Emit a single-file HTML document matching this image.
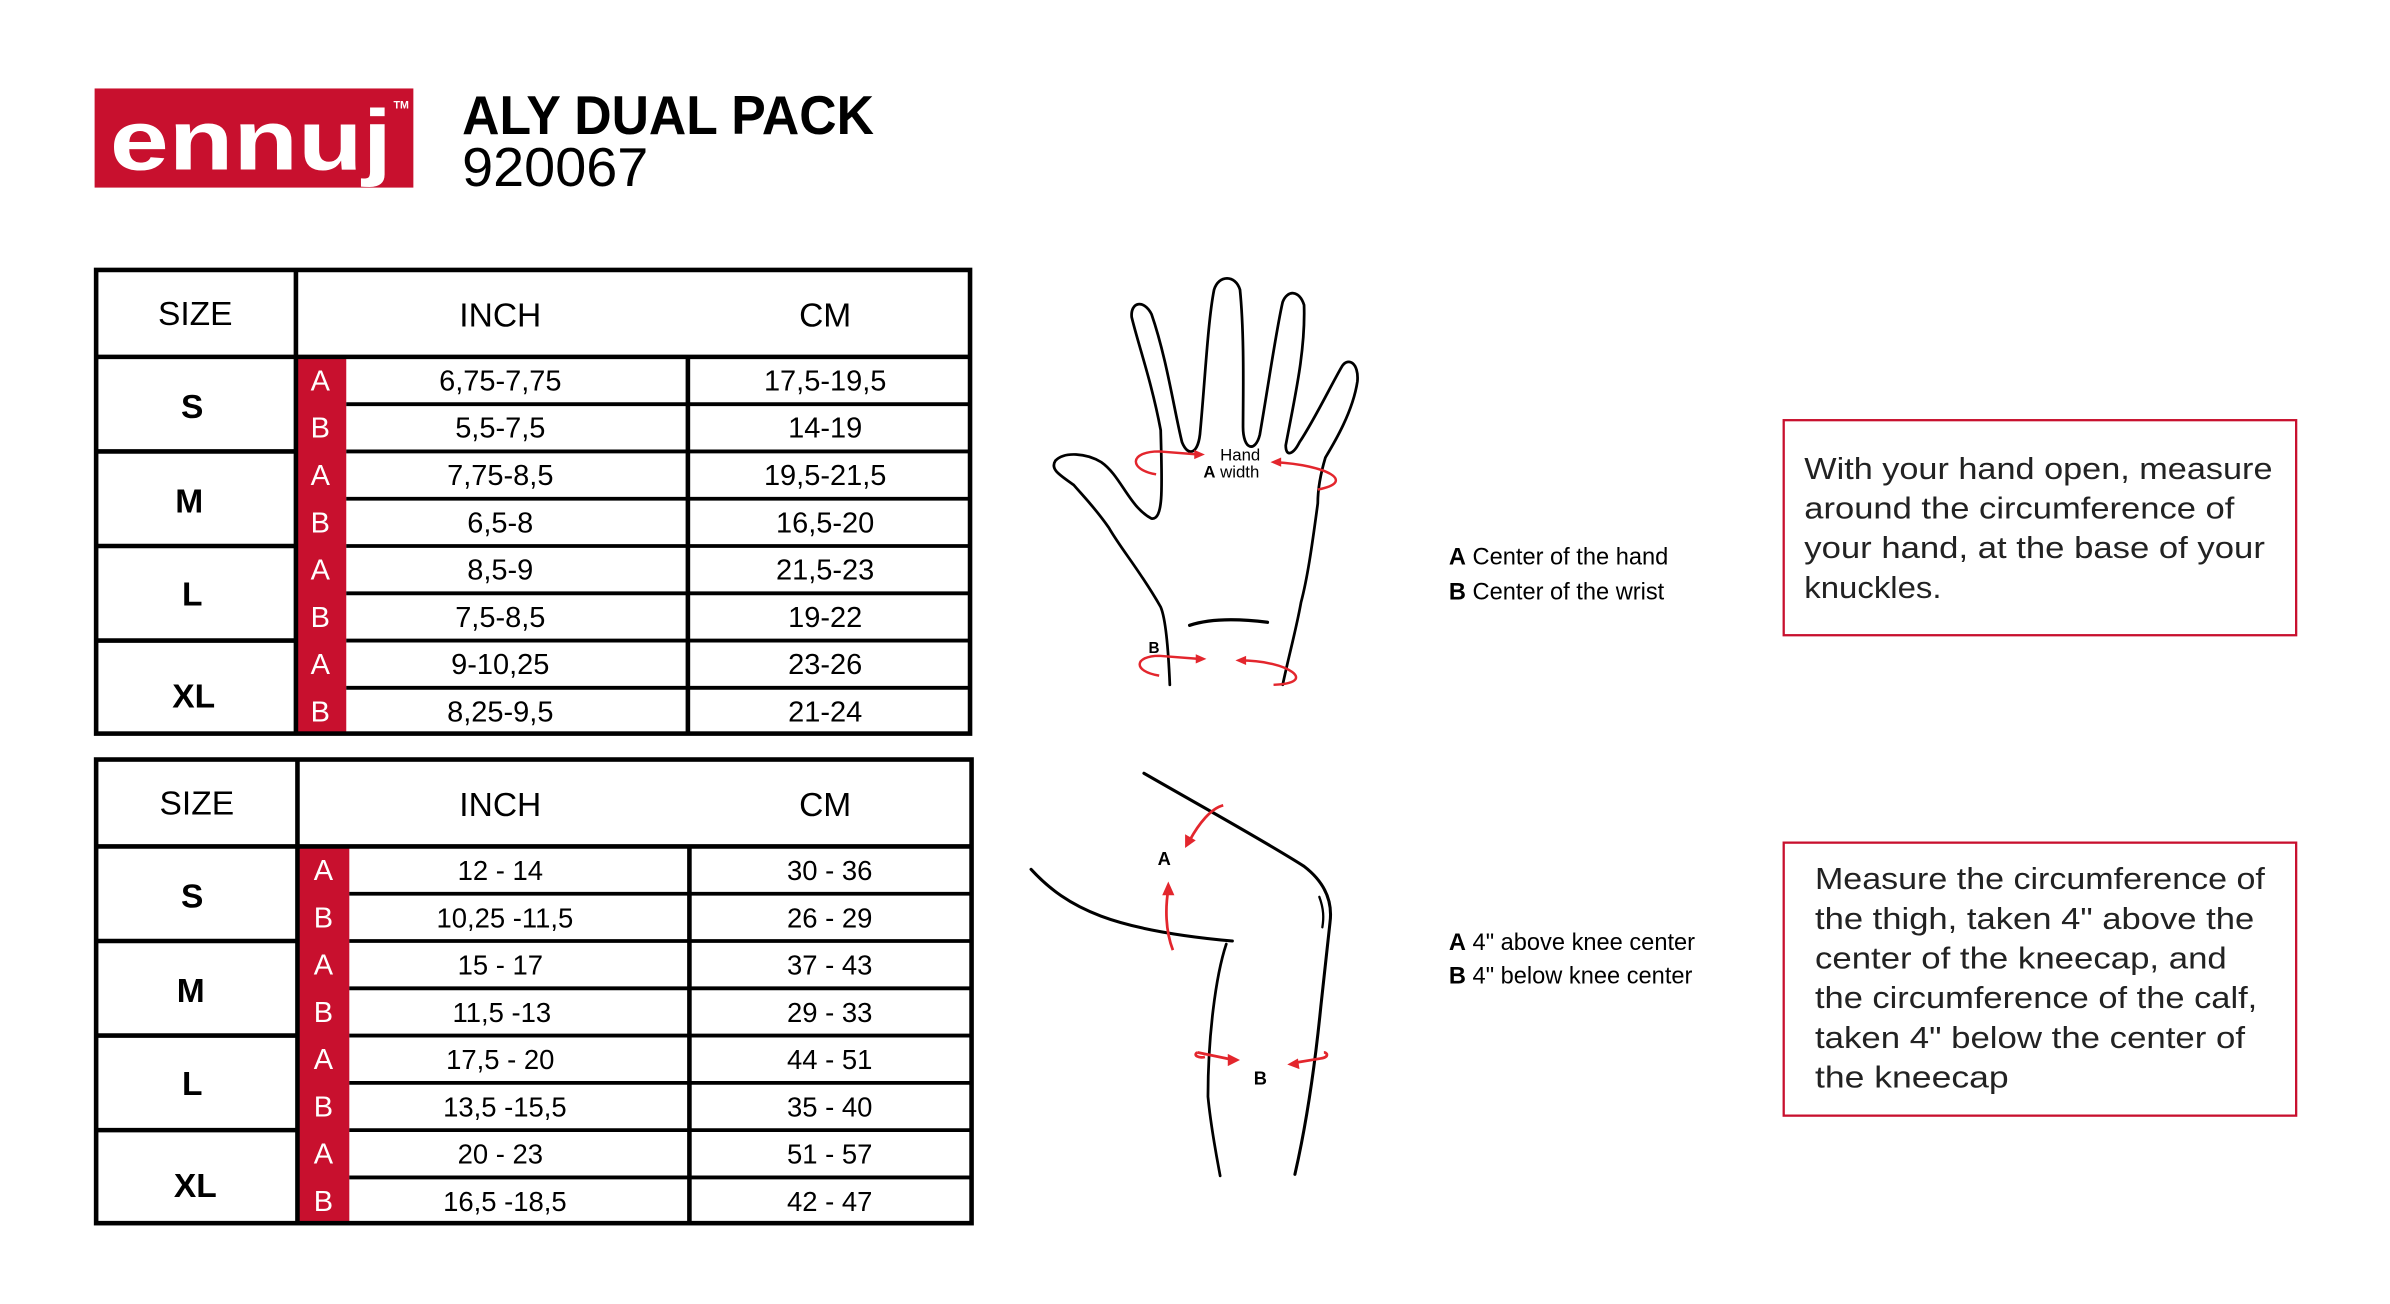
<!DOCTYPE html>
<html><head><meta charset="utf-8"><style>
html,body{margin:0;padding:0;background:#fff;}
svg{display:block;}
text{font-family:"Liberation Sans",sans-serif;}
</style></head><body>
<svg width="2390" height="1304" viewBox="0 0 1567 855" xmlns="http://www.w3.org/2000/svg">
<!-- logo -->
<rect x="62" y="58" width="209" height="65" fill="#c8102e"/>
<text x="72" y="111" font-size="56" font-weight="bold" fill="#fff" textLength="185" lengthAdjust="spacingAndGlyphs">ennuj</text>
<text x="258" y="71" font-size="7" font-weight="bold" fill="#fff">TM</text>
<text x="303" y="88" font-size="36" font-weight="bold" fill="#000" textLength="270" lengthAdjust="spacingAndGlyphs">ALY DUAL PACK</text>
<text x="303" y="122" font-size="36" fill="#000" textLength="122" lengthAdjust="spacingAndGlyphs">920067</text>

<!-- table 1 -->
<g>
<rect x="194" y="234" width="33" height="248" fill="#c8102e"/>
<g stroke="#000" fill="none">
<rect x="63" y="177" width="573" height="304" stroke-width="3"/>
<line x1="194" y1="177" x2="194" y2="482" stroke-width="3"/>
<line x1="63" y1="234" x2="636" y2="234" stroke-width="3"/>
<line x1="63" y1="296" x2="194" y2="296" stroke-width="3"/>
<line x1="63" y1="358" x2="194" y2="358" stroke-width="3"/>
<line x1="63" y1="420" x2="194" y2="420" stroke-width="3"/>
<line x1="227" y1="265" x2="636" y2="265" stroke-width="2.5"/>
<line x1="227" y1="296" x2="636" y2="296" stroke-width="2.5"/>
<line x1="227" y1="327" x2="636" y2="327" stroke-width="2.5"/>
<line x1="227" y1="358" x2="636" y2="358" stroke-width="2.5"/>
<line x1="227" y1="389" x2="636" y2="389" stroke-width="2.5"/>
<line x1="227" y1="420" x2="636" y2="420" stroke-width="2.5"/>
<line x1="227" y1="451" x2="636" y2="451" stroke-width="2.5"/>
<line x1="451" y1="234" x2="451" y2="482" stroke-width="3"/>
</g>
<g font-size="22" text-anchor="middle" fill="#000">
<text x="128" y="213">SIZE</text><text x="328" y="214">INCH</text><text x="541" y="214">CM</text>
</g>
<g font-size="22" font-weight="bold" text-anchor="middle">
<text x="126" y="274">S</text><text x="124" y="336">M</text><text x="126" y="397">L</text><text x="127" y="464">XL</text>
</g>
<g font-size="19" fill="#fff" text-anchor="middle">
<text x="210" y="256">A</text><text x="210" y="287">B</text><text x="210" y="318">A</text><text x="210" y="349">B</text>
<text x="210" y="380">A</text><text x="210" y="411">B</text><text x="210" y="442">A</text><text x="210" y="473">B</text>
</g>
<g font-size="19" text-anchor="middle">
<text x="328" y="256">6,75-7,75</text><text x="541" y="256">17,5-19,5</text>
<text x="328" y="287">5,5-7,5</text><text x="541" y="287">14-19</text>
<text x="328" y="318">7,75-8,5</text><text x="541" y="318">19,5-21,5</text>
<text x="328" y="349">6,5-8</text><text x="541" y="349">16,5-20</text>
<text x="328" y="380">8,5-9</text><text x="541" y="380">21,5-23</text>
<text x="328" y="411">7,5-8,5</text><text x="541" y="411">19-22</text>
<text x="328" y="442">9-10,25</text><text x="541" y="442">23-26</text>
<text x="328" y="473">8,25-9,5</text><text x="541" y="473">21-24</text>
</g>
</g>

<!-- table 2 -->
<g>
<rect x="195" y="555" width="34" height="248" fill="#c8102e"/>
<g stroke="#000" fill="none">
<rect x="63" y="498" width="574" height="304" stroke-width="3"/>
<line x1="195" y1="498" x2="195" y2="803" stroke-width="3"/>
<line x1="63" y1="555" x2="637" y2="555" stroke-width="3"/>
<line x1="63" y1="617" x2="195" y2="617" stroke-width="3"/>
<line x1="63" y1="679" x2="195" y2="679" stroke-width="3"/>
<line x1="63" y1="741" x2="195" y2="741" stroke-width="3"/>
<line x1="229" y1="586" x2="637" y2="586" stroke-width="2.5"/>
<line x1="229" y1="617" x2="637" y2="617" stroke-width="2.5"/>
<line x1="229" y1="648" x2="637" y2="648" stroke-width="2.5"/>
<line x1="229" y1="679" x2="637" y2="679" stroke-width="2.5"/>
<line x1="229" y1="710" x2="637" y2="710" stroke-width="2.5"/>
<line x1="229" y1="741" x2="637" y2="741" stroke-width="2.5"/>
<line x1="229" y1="772" x2="637" y2="772" stroke-width="2.5"/>
<line x1="452" y1="555" x2="452" y2="803" stroke-width="3"/>
</g>
<g font-size="22" text-anchor="middle" fill="#000">
<text x="129" y="534">SIZE</text><text x="328" y="535">INCH</text><text x="541" y="535">CM</text>
</g>
<g font-size="22" font-weight="bold" text-anchor="middle">
<text x="126" y="595">S</text><text x="125" y="657">M</text><text x="126" y="718">L</text><text x="128" y="785">XL</text>
</g>
<g font-size="19" fill="#fff" text-anchor="middle">
<text x="212" y="577">A</text><text x="212" y="608">B</text><text x="212" y="639">A</text><text x="212" y="670">B</text>
<text x="212" y="701">A</text><text x="212" y="732">B</text><text x="212" y="763">A</text><text x="212" y="794">B</text>
</g>
<g font-size="18" text-anchor="middle">
<text x="328" y="577">12 - 14</text><text x="544" y="577">30 - 36</text>
<text x="331" y="608">10,25 -11,5</text><text x="544" y="608">26 - 29</text>
<text x="328" y="639">15 - 17</text><text x="544" y="639">37 - 43</text>
<text x="329" y="670">11,5 -13</text><text x="544" y="670">29 - 33</text>
<text x="328" y="701">17,5 - 20</text><text x="544" y="701">44 - 51</text>
<text x="331" y="732">13,5 -15,5</text><text x="544" y="732">35 - 40</text>
<text x="328" y="763">20 - 23</text><text x="544" y="763">51 - 57</text>
<text x="331" y="794">16,5 -18,5</text><text x="544" y="794">42 - 47</text>
</g>
</g>

<!-- hand -->
<g fill="none" stroke="#000" stroke-width="1.8" stroke-linejoin="round" stroke-linecap="round">
<path d="M767,449 C766,425 764,405 761,398 C748,375 735,360 727,346 C718,333 710,325 704,318 C696,312 688,308 692,302 C698,296 712,297 722,303 C735,312 740,332 755,340 C763,341 762,320 761,282 C755,250 746,225 742,208 C741,198 750,196 755,206 C765,235 770,270 775,290 C779,300 786,298 787,282 C790,250 792,210 796,190 C799,180 810,180 813,190 C816,220 815,260 815,280 C815,295 823,297 826,285 C832,250 837,215 841,198 C844,190 852,190 855,200 C856,230 849,260 843,292 C843,300 848,298 852,290 C862,275 874,250 880,240 C884,234 891,238 890,250 C887,270 875,290 869,300 C866,310 864,320 864,330 C860,360 857,380 853,395 C850,412 845,430 841,449"/>
<path d="M780,410 C795,405 815,406 831,408" stroke-width="2.2"/>
</g>
<g fill="none" stroke="#e3262d" stroke-width="1.6">
<path d="M758,311 C740,308 740,296 760,296 L786,298"/>
<path d="M836,303 C870,305 890,316 864,321"/>
<path d="M760,443 C742,440 744,430 760,430 L786,432"/>
<path d="M813,433 C845,433 865,448 835,449"/>
</g>
<g fill="#e3262d">
<polygon points="790,298 783,295 783,301"/><polygon points="833,303 840,300 840,306"/>
<polygon points="791,432 784,429 784,435"/><polygon points="810,433 817,430 817,436"/>
</g>
<g font-size="11" fill="#000"><text x="800" y="302">Hand</text><text x="789" y="313"><tspan font-weight="bold">A</tspan> width</text></g>
<text x="753" y="428" font-size="10" font-weight="bold">B</text>

<!-- knee -->
<g fill="none" stroke="#000" stroke-linecap="round">
<path d="M750,507 C790,530 830,552 855,568 C868,578 874,590 872,605 L866,660 C862,700 857,735 849,770" stroke-width="2"/>
<path d="M676,570 C700,596 730,610 808,617" stroke-width="2"/>
<path d="M804,619 C797,640 792,680 792,719 C794,740 798,760 800,771" stroke-width="1.8"/>
<path d="M865,588 C868,596 868,602 867,608" stroke-width="1.5"/>
</g>
<g fill="none" stroke="#e3262d" stroke-width="1.8">
<path d="M802,528 C794,530 786,540 780,551"/>
<path d="M769,623 C764,610 764,595 766,583"/>
<path d="M785,690 L809,695"/><path d="M848,697 L866,694 C872,693 870,690 868,690"/>
<path d="M785,690 C782,692 786,694 790,693"/>
</g>
<g fill="#e3262d">
<polygon points="777,556 777,547 784,551"/><polygon points="766,578 762,587 770,587"/>
<polygon points="813,695 805,691 805,699"/><polygon points="844,698 851,694 852,701"/>
</g>
<text x="759" y="567" font-size="12" font-weight="bold">A</text>
<text x="822" y="711" font-size="12" font-weight="bold">B</text>

<!-- labels -->
<g font-size="15.5" fill="#000">
<text x="950" y="370"><tspan font-weight="bold">A</tspan> Center of the hand</text>
<text x="950" y="393"><tspan font-weight="bold">B</tspan> Center of the wrist</text>
<text x="950" y="623"><tspan font-weight="bold">A</tspan> 4" above knee center</text>
<text x="950" y="645"><tspan font-weight="bold">B</tspan> 4" below knee center</text>
</g>

<!-- boxes -->
<rect x="1169.5" y="275.5" width="336" height="141" fill="none" stroke="#c8102e" stroke-width="1.5"/>
<g font-size="20" fill="#222">
<text x="1183" y="314" textLength="307" lengthAdjust="spacingAndGlyphs">With your hand open, measure</text>
<text x="1183" y="340" textLength="282" lengthAdjust="spacingAndGlyphs">around the circumference of</text>
<text x="1183" y="366" textLength="302" lengthAdjust="spacingAndGlyphs">your hand, at the base of your</text>
<text x="1183" y="392" textLength="90" lengthAdjust="spacingAndGlyphs">knuckles.</text>
</g>
<rect x="1169.5" y="552.5" width="336" height="179" fill="none" stroke="#c8102e" stroke-width="1.5"/>
<g font-size="20" fill="#222">
<text x="1190" y="583" textLength="295" lengthAdjust="spacingAndGlyphs">Measure the circumference of</text>
<text x="1190" y="609" textLength="288" lengthAdjust="spacingAndGlyphs">the thigh, taken 4" above the</text>
<text x="1190" y="635" textLength="270" lengthAdjust="spacingAndGlyphs">center of the kneecap, and</text>
<text x="1190" y="661" textLength="290" lengthAdjust="spacingAndGlyphs">the circumference of the calf,</text>
<text x="1190" y="687" textLength="282" lengthAdjust="spacingAndGlyphs">taken 4" below the center of</text>
<text x="1190" y="713" textLength="127" lengthAdjust="spacingAndGlyphs">the kneecap</text>
</g>
</svg>
</body></html>
